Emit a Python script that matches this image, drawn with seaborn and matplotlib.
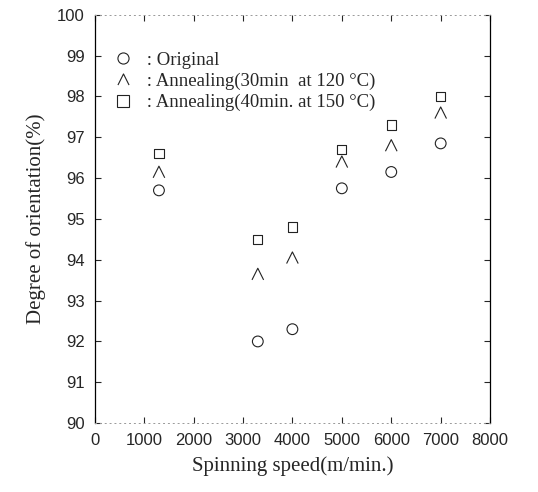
import numpy as np
import pandas as pd
import matplotlib
matplotlib.use("Agg")
import matplotlib.pyplot as plt
from matplotlib.path import Path
from matplotlib.lines import Line2D
import seaborn as sns

# values
speeds = [1300, 3300, 4000, 5000, 6000, 7000]
original = [95.7, 92.0, 92.3, 95.75, 96.15, 96.85]
anneal_120 = [96.15, 93.65, 94.05, 96.4, 96.8, 97.6]
anneal_150 = [96.6, 94.5, 94.8, 96.7, 97.3, 98.0]
labels = [" : Original", " : Annealing(30min  at 120 \u00b0C)", " : Annealing(40min. at 150 \u00b0C)"]
xticks = [0, 1000, 2000, 3000, 4000, 5000, 6000, 7000, 8000]
yticks = list(range(90, 101))

sns.set_style("white")
plt.rcParams['font.family'] = ['Liberation Sans', 'DejaVu Sans']
serif = ['Liberation Serif', 'DejaVu Serif']

# open "wedge" marker, like the caret in the scan
wedge = Path([(-1, -1), (0, 1), (1, -1)], [Path.MOVETO, Path.LINETO, Path.LINETO])
markers = ['o', wedge, 's']
sizes = [60, 70, 45]

df = pd.DataFrame({
    'speed': speeds * 3,
    'orient': original + anneal_120 + anneal_150,
    'series': [labels[0]] * 6 + [labels[1]] * 6 + [labels[2]] * 6,
})

fig = plt.figure(figsize=(5.38, 4.92), dpi=100)
ax = fig.add_axes([0.176, 0.140, 0.735, 0.830])

for lab, mk, sz in zip(labels, markers, sizes):
    sub = df[df['series'] == lab]
    sns.scatterplot(data=sub, x='speed', y='orient', marker=mk, s=sz,
                    facecolors='none', edgecolor='#222222', linewidth=0.8, ax=ax)

ax.set_xlim(0, 8000)
ax.set_ylim(90, 100)
ax.set_xticks(xticks)
ax.set_yticks(yticks)
ax.tick_params(direction='in', length=4, width=0.8, labelsize=12, right=True, top=True,
               bottom=True, left=True, pad=7)

for side in ['left', 'right']:
    ax.spines[side].set_color('black')
    ax.spines[side].set_linewidth(0.9)
for side in ['top', 'bottom']:
    ax.spines[side].set_color('#999999')
    ax.spines[side].set_linewidth(0.7)
    ax.spines[side].set_linestyle((0, (1, 4)))

ax.set_xlabel("Spinning speed(m/min.)", family=serif, fontsize=15, labelpad=6)
ax.set_ylabel("Degree of orientation(%)", family=serif, fontsize=15, labelpad=8)

handles = [Line2D([], [], marker=mk, linestyle='none', markerfacecolor='none',
                  markeredgecolor='#222222', markeredgewidth=0.8, markersize=8)
           for mk in markers]
ax.legend(handles, labels, loc='upper left', bbox_to_anchor=(0.0, 0.955), frameon=False,
          handlelength=1.0, handletextpad=0.5, labelspacing=0.2, borderaxespad=0.6,
          prop={'family': serif, 'size': 13.5})

fig.savefig("out.png", dpi=100)
